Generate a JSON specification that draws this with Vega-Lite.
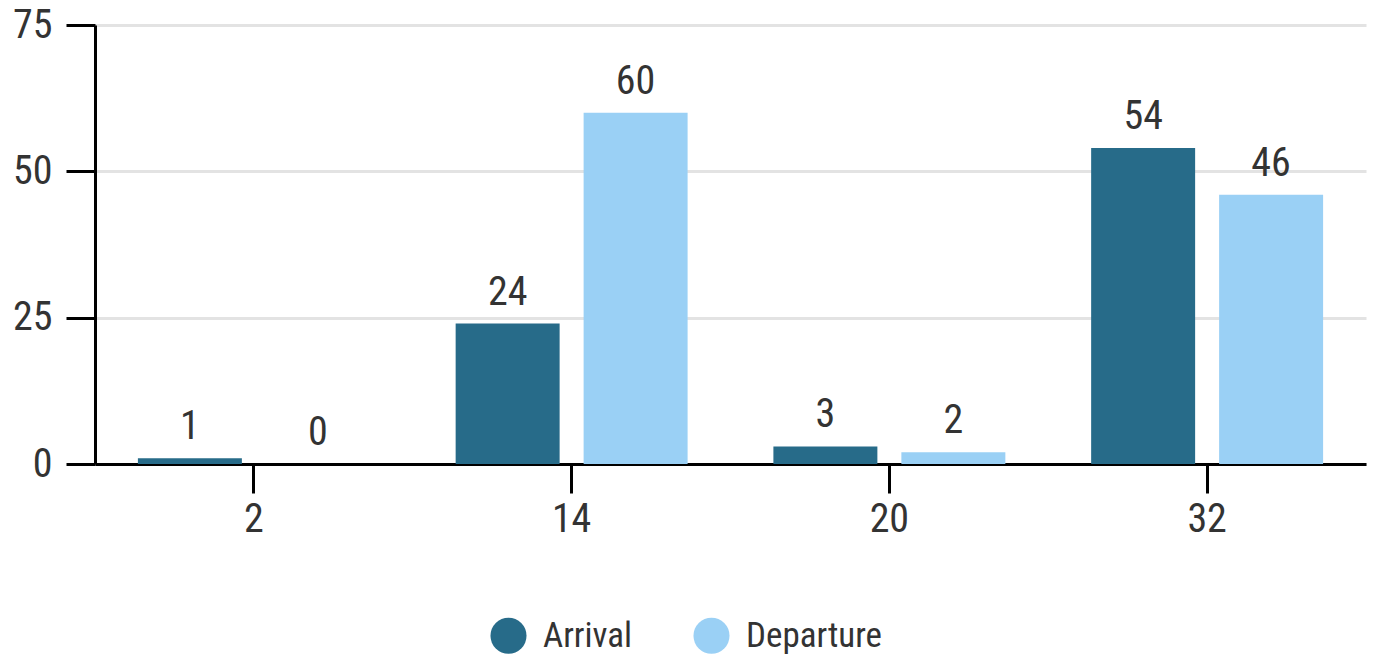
{
  "$schema": "https://vega.github.io/schema/vega-lite/v6.json",
  "width": 1271,
  "height": 439,
  "autosize": {"type": "none"},
  "padding": {"left": 95, "top": 25, "right": 7, "bottom": 190},
  "background": "white",
  "config": {
    "view": {"stroke": null},
    "font": "Roboto Condensed, Roboto",
    "axis": {
      "labelFont": "Roboto Condensed, Roboto",
      "labelFontSize": 40,
      "labelColor": "#333333",
      "domainColor": "black",
      "domainWidth": 3,
      "tickColor": "black",
      "tickWidth": 3,
      "tickSize": 29,
      "labelPadding": 6,
      "title": null
    },
    "legend": {
      "labelFont": "Roboto Condensed, Roboto",
      "labelFontSize": 35,
      "labelColor": "#333333"
    }
  },
  "data": {
    "values": [
      {"Gate": "2", "Type": "Arrival", "Count": 1},
      {"Gate": "2", "Type": "Departure", "Count": 0},
      {"Gate": "14", "Type": "Arrival", "Count": 24},
      {"Gate": "14", "Type": "Departure", "Count": 60},
      {"Gate": "20", "Type": "Arrival", "Count": 3},
      {"Gate": "20", "Type": "Departure", "Count": 2},
      {"Gate": "32", "Type": "Arrival", "Count": 54},
      {"Gate": "32", "Type": "Departure", "Count": 46}
    ]
  },
  "encoding": {
    "x": {
      "field": "Gate",
      "type": "ordinal",
      "sort": null,
      "scale": {"paddingInner": 0.27, "paddingOuter": 0.135},
      "axis": {"labelAngle": 0, "grid": false}
    },
    "xOffset": {
      "field": "Type",
      "type": "nominal",
      "scale": {"paddingInner": 0.1875, "paddingOuter": 0}
    },
    "y": {
      "field": "Count",
      "type": "quantitative",
      "scale": {"domain": [0, 75], "nice": false},
      "axis": {
        "values": [0, 25, 50, 75],
        "grid": true,
        "gridColor": "#e3e3e3",
        "gridWidth": 3,
        "labelPadding": 14
      }
    }
  },
  "layer": [
    {
      "mark": {"type": "bar"},
      "encoding": {
        "color": {
          "field": "Type",
          "type": "nominal",
          "scale": {
            "domain": ["Arrival", "Departure"],
            "range": ["#276b89", "#9ad0f5"]
          },
          "legend": {
            "orient": "none",
            "legendX": 395,
            "legendY": 592,
            "direction": "horizontal",
            "title": null,
            "symbolType": "circle",
            "symbolSize": 1300,
            "symbolStrokeWidth": 0,
            "labelOffset": 16,
            "columnPadding": 60
          }
        }
      }
    },
    {
      "mark": {
        "type": "text",
        "baseline": "bottom",
        "dy": -11,
        "fontSize": 40,
        "color": "#333333"
      },
      "encoding": {
        "text": {"field": "Count", "type": "quantitative"}
      }
    }
  ]
}
